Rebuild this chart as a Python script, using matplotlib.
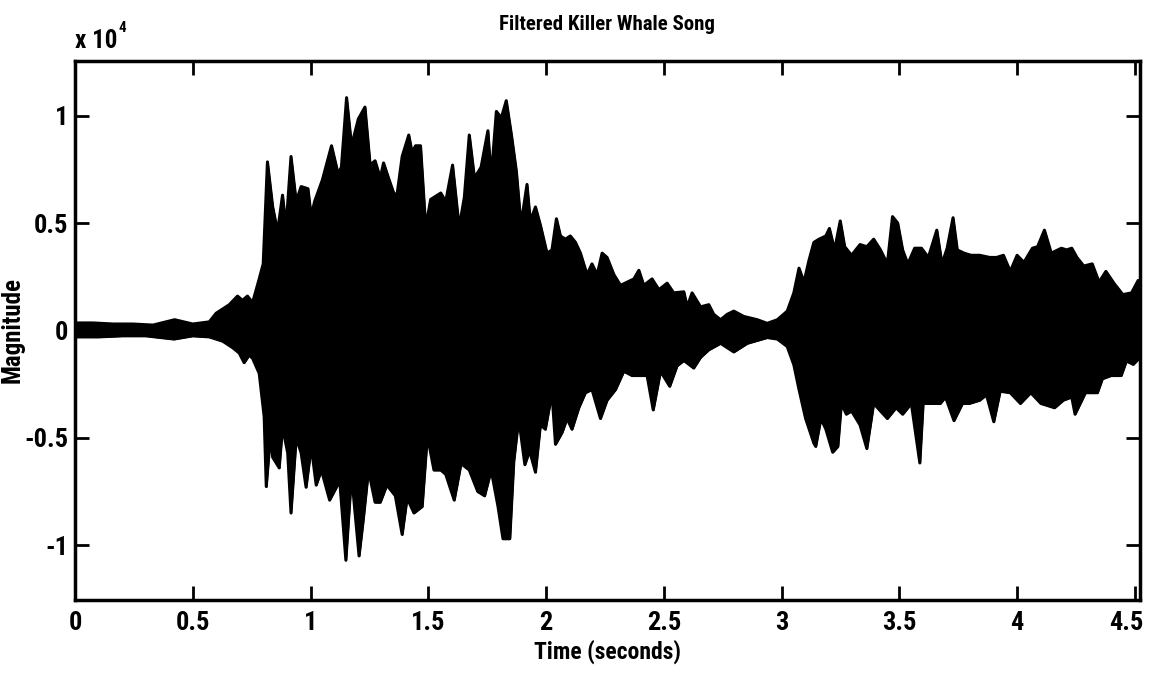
import matplotlib
matplotlib.use("Agg")
import matplotlib.pyplot as plt
import matplotlib.transforms as mtrans

# envelope of the filtered song (magnitude in units of 1e4)
t_upper = [0.0, 0.077, 0.162, 0.246, 0.331, 0.423, 0.5, 0.57, 0.599, 0.627, 0.655, 0.69, 0.711, 0.732, 0.754,
           0.782, 0.799, 0.817, 0.839, 0.86, 0.881, 0.896, 0.917, 0.939, 0.96, 0.989, 1.003, 1.017, 1.05,
           1.089, 1.117, 1.131, 1.153, 1.174, 1.203, 1.231, 1.253, 1.274, 1.296, 1.31, 1.331, 1.353, 1.367,
           1.389, 1.417, 1.431, 1.446, 1.467, 1.489, 1.51, 1.553, 1.574, 1.603, 1.631, 1.653, 1.674, 1.696,
           1.724, 1.753, 1.767, 1.789, 1.81, 1.831, 1.853, 1.874, 1.889, 1.898, 1.919, 1.933, 1.955, 1.976,
           2.004, 2.025, 2.044, 2.061, 2.082, 2.103, 2.125, 2.146, 2.174, 2.195, 2.217, 2.238, 2.259, 2.288,
           2.316, 2.344, 2.373, 2.394, 2.415, 2.45, 2.479, 2.514, 2.542, 2.585, 2.599, 2.62, 2.656, 2.691,
           2.712, 2.741, 2.769, 2.797, 2.84, 2.897, 2.939, 2.982, 3.024, 3.052, 3.074, 3.095, 3.116, 3.137,
           3.159, 3.188, 3.203, 3.225, 3.249, 3.268, 3.297, 3.333, 3.362, 3.391, 3.42, 3.449, 3.471, 3.493,
           3.514, 3.536, 3.565, 3.594, 3.623, 3.659, 3.681, 3.703, 3.728, 3.746, 3.775, 3.804, 3.841, 3.884,
           3.913, 3.942, 3.971, 4.0, 4.029, 4.065, 4.087, 4.116, 4.145, 4.188, 4.21, 4.232, 4.254, 4.283,
           4.319, 4.348, 4.377, 4.413, 4.449, 4.486, 4.514, 4.543]
v_upper = [0.035, 0.035, 0.03, 0.03, 0.025, 0.05, 0.03, 0.04, 0.08, 0.10, 0.12, 0.16, 0.14, 0.16, 0.13,
           0.24, 0.31, 0.785, 0.577, 0.46, 0.63, 0.48, 0.81, 0.6, 0.67, 0.66, 0.53, 0.6, 0.70,
           0.86, 0.73, 0.76, 1.084, 0.86, 0.985, 1.04, 0.77, 0.79, 0.71, 0.78, 0.71, 0.64, 0.63,
           0.81, 0.91, 0.83, 0.86, 0.86, 0.48, 0.61, 0.64, 0.6, 0.77, 0.48, 0.62, 0.91, 0.71,
           0.76, 0.93, 0.71, 1.02, 0.99, 1.07, 0.91, 0.74, 0.55, 0.525, 0.68, 0.51, 0.575, 0.49,
           0.36, 0.375, 0.52, 0.44, 0.425, 0.44, 0.41, 0.36, 0.26, 0.31, 0.26, 0.36, 0.34, 0.26,
           0.21, 0.225, 0.24, 0.28, 0.21, 0.24, 0.19, 0.22, 0.175, 0.18, 0.11, 0.175, 0.11, 0.12,
           0.075, 0.05, 0.075, 0.09, 0.065, 0.05, 0.033, 0.05, 0.09, 0.175, 0.29, 0.225, 0.325, 0.41,
           0.425, 0.44, 0.475, 0.375, 0.51, 0.39, 0.35, 0.40, 0.39, 0.425, 0.375, 0.31, 0.53, 0.5,
           0.375, 0.31, 0.383, 0.383, 0.34, 0.467, 0.31, 0.383, 0.525, 0.375, 0.36, 0.35, 0.35, 0.34,
           0.34, 0.35, 0.275, 0.35, 0.317, 0.383, 0.39, 0.467, 0.36, 0.383, 0.375, 0.383, 0.34, 0.3,
           0.31, 0.225, 0.275, 0.217, 0.167, 0.175, 0.233, 0.158]

t_lower = [0.0, 0.1, 0.2, 0.3, 0.42, 0.5, 0.57, 0.613, 0.627, 0.669, 0.697, 0.718, 0.739, 0.754, 0.782,
           0.803, 0.812, 0.831, 0.839, 0.867, 0.881, 0.903, 0.917, 0.939, 0.96, 0.981, 1.003, 1.024, 1.046,
           1.081, 1.124, 1.15, 1.174, 1.206, 1.224, 1.246, 1.274, 1.296, 1.324, 1.36, 1.389, 1.41, 1.439,
           1.474, 1.496, 1.524, 1.553, 1.574, 1.61, 1.639, 1.674, 1.71, 1.739, 1.767, 1.796, 1.817, 1.846,
           1.863, 1.884, 1.91, 1.93, 1.955, 1.976, 1.997, 2.025, 2.04, 2.068, 2.089, 2.11, 2.139, 2.167,
           2.195, 2.231, 2.259, 2.295, 2.33, 2.365, 2.401, 2.429, 2.455, 2.486, 2.525, 2.556, 2.585, 2.627,
           2.656, 2.691, 2.741, 2.797, 2.854, 2.939, 2.982, 3.024, 3.052, 3.074, 3.102, 3.137, 3.145, 3.167,
           3.188, 3.217, 3.239, 3.254, 3.275, 3.297, 3.333, 3.362, 3.391, 3.42, 3.449, 3.486, 3.514, 3.551,
           3.587, 3.601, 3.638, 3.674, 3.696, 3.732, 3.768, 3.797, 3.841, 3.87, 3.901, 3.928, 3.971, 4.014,
           4.058, 4.101, 4.159, 4.196, 4.232, 4.246, 4.29, 4.341, 4.362, 4.399, 4.442, 4.464, 4.493, 4.522]
v_lower = [-0.03, -0.03, -0.025, -0.025, -0.04, -0.025, -0.03, -0.045, -0.05, -0.08, -0.105, -0.15, -0.115, -0.13, -0.2,
           -0.4, -0.727, -0.47, -0.59, -0.64, -0.45, -0.57, -0.85, -0.50, -0.57, -0.73, -0.54, -0.72, -0.65,
           -0.79, -0.70, -1.07, -0.67, -1.05, -0.88, -0.65, -0.80, -0.80, -0.72, -0.77, -0.95, -0.78, -0.85,
           -0.82, -0.49, -0.65, -0.65, -0.67, -0.79, -0.62, -0.65, -0.75, -0.77, -0.65, -0.82, -0.97, -0.97,
           -0.61, -0.41, -0.625, -0.56, -0.66, -0.44, -0.46, -0.29, -0.53, -0.475, -0.41, -0.46, -0.36, -0.29,
           -0.275, -0.41, -0.325, -0.275, -0.19, -0.21, -0.21, -0.21, -0.37, -0.19, -0.26, -0.165, -0.14, -0.175,
           -0.125, -0.09, -0.06, -0.1, -0.06, -0.033, -0.04, -0.075, -0.16, -0.275, -0.41, -0.525, -0.54, -0.41,
           -0.46, -0.567, -0.54, -0.34, -0.39, -0.375, -0.44, -0.55, -0.34, -0.375, -0.41, -0.36, -0.39, -0.34,
           -0.617, -0.34, -0.34, -0.34, -0.31, -0.42, -0.34, -0.34, -0.325, -0.3, -0.425, -0.283, -0.29, -0.34,
           -0.29, -0.34, -0.36, -0.325, -0.31, -0.39, -0.29, -0.29, -0.225, -0.21, -0.21, -0.142, -0.158, -0.125]

x_ticks = [0, 0.5, 1, 1.5, 2, 2.5, 3, 3.5, 4, 4.5]
x_labels = ["0", "0.5", "1", "1.5", "2", "2.5", "3", "3.5", "4", "4.5"]
y_ticks = [-1, -0.5, 0, 0.5, 1]
y_labels = ["-1", "-0.5", "0", "0.5", "1"]

plt.rcParams["font.family"] = ["Roboto Condensed", "Liberation Sans", "DejaVu Sans"]
plt.rcParams["font.weight"] = "bold"

fig = plt.figure(figsize=(11.49, 6.81), dpi=100)
ax = fig.add_axes([0.0653, 0.119, 0.9265, 0.7915])

# solid body of the waveform plus thick envelope edges
ax.fill_between(t_upper, 0, v_upper, facecolor="black", edgecolor="black", linewidth=1)
ax.fill_between(t_lower, v_lower, 0, facecolor="black", edgecolor="black", linewidth=1)
ax.plot(t_upper, v_upper, color="black", lw=2.2)
ax.plot(t_lower, v_lower, color="black", lw=2.2)

ax.set_xlim(0, 4.52)
ax.set_ylim(-1.255, 1.255)
ax.set_xticks(x_ticks)
ax.set_xticklabels(x_labels)
ax.set_yticks(y_ticks)
ax.set_yticklabels(y_labels)
ax.tick_params(direction="in", length=10, width=2, top=True, right=True,
               labelsize=19)
ax.tick_params(axis="x", pad=8)
ax.tick_params(axis="y", pad=5)
for s in ax.spines.values():
    s.set_linewidth(2.5)

# last x label sits against the right edge of the figure
last = ax.get_xticklabels()[-1]
last.set_transform(last.get_transform() + mtrans.ScaledTranslation(-6 / 72, 0, fig.dpi_scale_trans))

ax.set_title("Filtered Killer Whale Song", fontsize=15, fontweight="bold", pad=22)
ax.set_xlabel("Time (seconds)", fontsize=17, fontweight="bold", labelpad=3)
ax.set_ylabel("Magnitude", fontsize=18, fontweight="bold")
ax.yaxis.set_label_coords(-0.047, 0.5)
mult = ax.text(0.0, 1.015, "x 10", transform=ax.transAxes, fontsize=18,
               fontweight="bold", ha="left", va="bottom")
ax.annotate("4", xy=(1, 0.75), xycoords=mult, fontsize=11, fontweight="bold",
            ha="left", va="bottom", xytext=(1, 0), textcoords="offset points")

fig.savefig("out.png", dpi=100)
